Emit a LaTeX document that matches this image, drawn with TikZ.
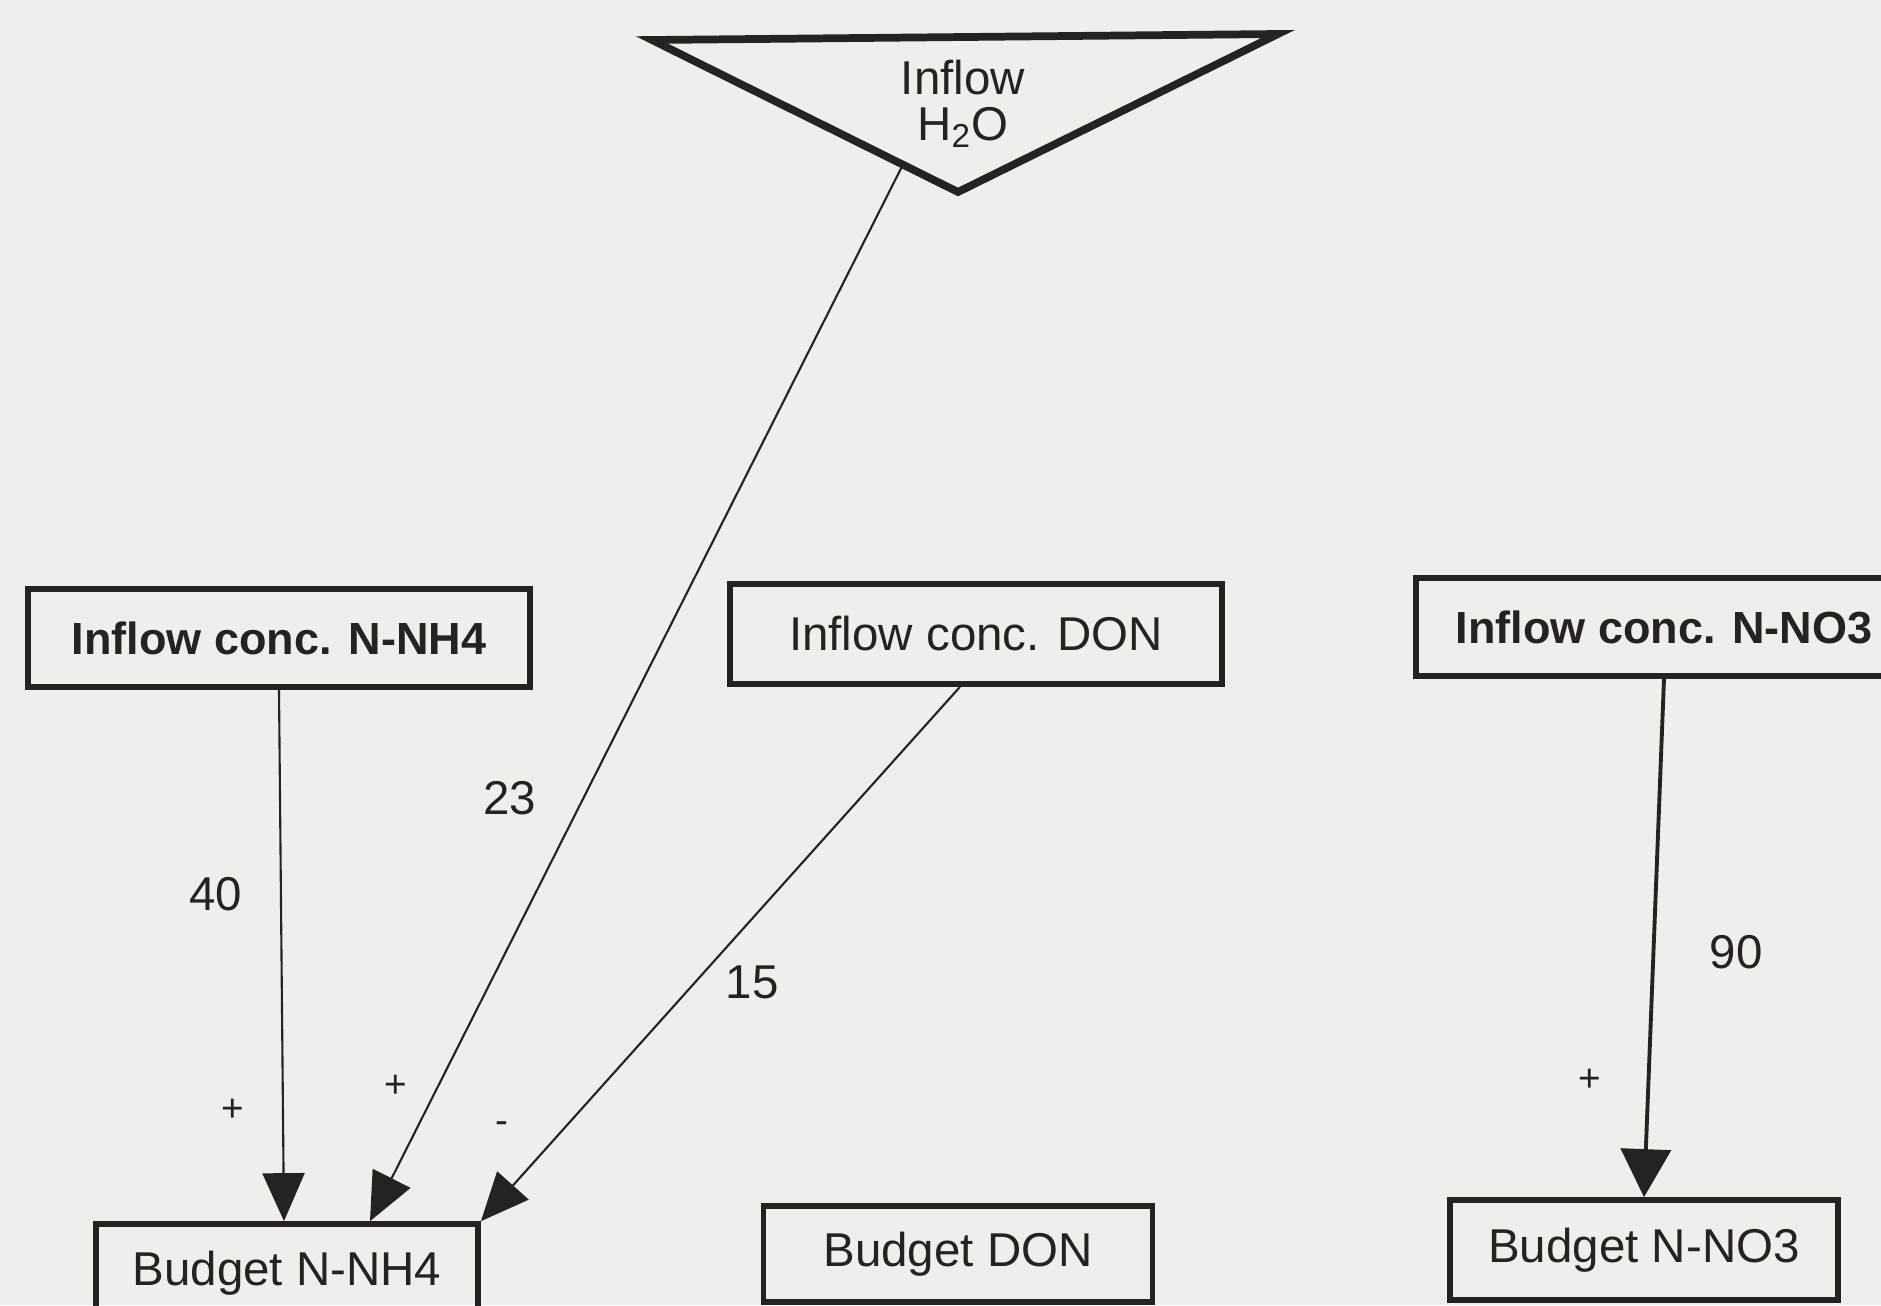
\documentclass[tikz,border=0pt]{standalone}
\usepackage{fontspec}
\setmainfont{Liberation Sans}
\usetikzlibrary{arrows.meta, positioning, calc}
\definecolor{paper}{RGB}{238,238,234}
\definecolor{ink}{RGB}{38,34,36}

\begin{document}
\begin{tikzpicture}[
  x=0.01cm, y=-0.01cm,
  box/.style={draw=ink, line width=1.6pt, inner sep=0pt, minimum height=0.98cm,
    font=\fontsize{13.5}{13}\selectfont, text=ink},
  heavy/.style={font=\fontsize{12.8}{13}\selectfont\bfseries},
  flow/.style={draw=ink, line width=0.6pt, -{Triangle[length=0.48cm, width=0.42cm]}},
  lbl/.style={font=\fontsize{13.5}{13}\selectfont, text=ink},
  sign/.style={font=\fontsize{11}{11}\selectfont, text=ink},
]
\useasboundingbox (0,0) rectangle (1881,1305);
\fill[paper] (0,0) rectangle (1881,1305);
\clip (0,0) rectangle (1881,1305);

% inflow triangle
\coordinate (tl) at (652,40);
\coordinate (tr) at (1278,34);
\coordinate (tb) at (958,192);
\draw[ink, line width=2.2pt, line join=miter] (tl) -- (tr) -- (tb) -- cycle;
\node[lbl, align=center] (water) at (963,104) {Inflow\\H\textsubscript{2}O};
\coordinate (water-out) at ($(tl)!0.82!(tb)$);

% concentrations
\node[box, heavy, minimum width=5.02cm] (inNH4) at (279,638) {Inflow conc. N-NH4};
\node[box, minimum width=4.92cm, minimum height=1.0cm] (inDON) at (976,634) {Inflow conc. DON};
\node[box, heavy, minimum width=4.96cm] (inNO3) at (1664,627) {Inflow conc. N-NO3};

% budgets
\node[box, minimum width=3.82cm] (budNH4) at (287,1273) {Budget N-NH4};
\node[box, minimum width=3.89cm, minimum height=0.96cm] (budDON) at (958,1254) {Budget DON};
\node[box, minimum width=3.88cm, minimum height=1.0cm] (budNO3) at (1644,1250) {Budget N-NO3};

% flows
\draw[flow] (inNH4.south) -- ([xshift=-0.03cm]budNH4.north);
\draw[flow] (water-out) -- ($(budNH4.north)+(83,0)$);
\draw[flow] ([xshift=-0.16cm]inDON.south) -- (budNH4.north east);
\draw[flow, line width=1.1pt, -{Triangle[length=0.48cm, width=0.5cm]}] (inNO3.south) -- (budNO3.north);

\node[lbl] (v40) at (216,894) {40};
\node[lbl] (v23) at (510,798) {23};
\node[lbl] (v15) at (752,982) {15};
\node[lbl] (v90) at (1736,952) {90};
\node[sign] (s1) at (233,1110) {+};
\node[sign] (s2) at (396,1086) {+};
\node[sign] (s3) at (502,1128) {-};
\node[sign] (s4) at (1590,1080) {+};
\end{tikzpicture}
\end{document}
